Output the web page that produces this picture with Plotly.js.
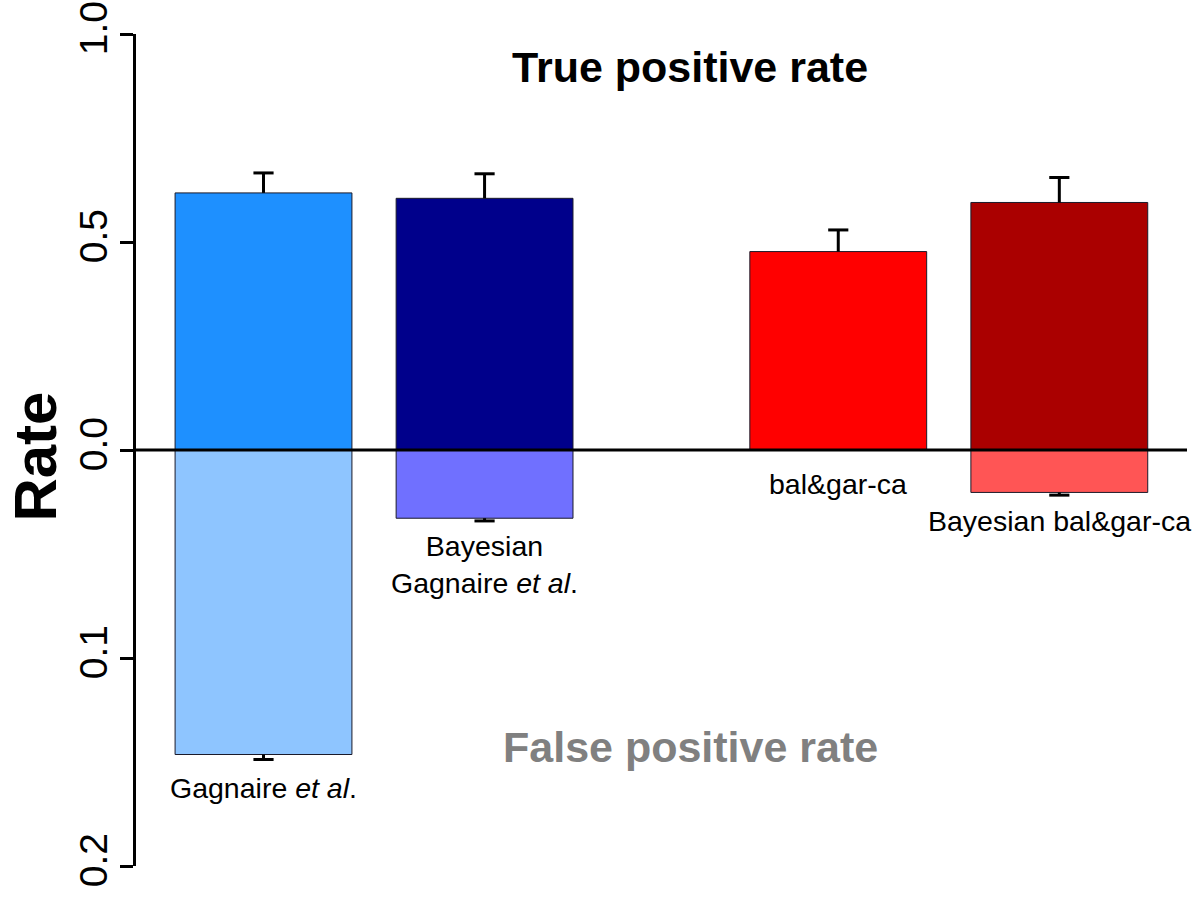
<!DOCTYPE html>
<html><head><meta charset="utf-8">
<script src="https://cdn.plot.ly/plotly-3.0.1.min.js"></script>
<style>html,body{margin:0;padding:0;background:#fff}</style>
</head><body><div id="chart" style="width:1200px;height:901px"></div>
<script>
// ---- data ----
const methods = ['Gagnaire et al.', 'Bayesian Gagnaire et al.', 'bal&gar-ca', 'Bayesian bal&gar-ca'];
const methodLabels = ['Gagnaire <i>et al</i>.', 'Bayesian<br>Gagnaire <i>et al</i>.', 'bal&gar-ca', 'Bayesian bal&gar-ca'];
const tpr = [0.618, 0.605, 0.477, 0.595];
const tprErr = [0.048, 0.059, 0.052, 0.060];
const fpr = [0.1464, 0.0328, 0.0, 0.0204];
const fprErr = [0.0024, 0.0013, 0.0, 0.0013];
const tprColors = ['#1E90FF', '#00008B', '#FF0000', '#AA0000'];
const fprColors = ['#8EC5FF', '#7070FF', '#FF6060', '#FF5555'];
const tprTicks = [0.5, 1.0];
const fprTicks = [0.1, 0.2];

// ---- layout constants ----
const xpos = [0, 1.25, 3.25, 4.5];
const fprScale = 5;               // 0.2 FPR drawn at same height as 1.0 TPR
const labelY = [-0.8125, -0.275, -0.082, -0.171];
const capHalf = 0.057;
const font = 'Liberation Sans, Arial, sans-serif';

const fprPlot = fpr.map(v => -v * fprScale);

const traces = [
  {type: 'bar', x: xpos, y: tpr, width: 1, marker: {color: tprColors, line: {color: '#1a1a2a', width: 1}},
   hoverinfo: 'skip', showlegend: false},
  {type: 'bar', x: xpos, y: fprPlot, width: 1, marker: {color: fprColors, line: {color: '#1a1a2a', width: fpr.map(v => v > 0 ? 1 : 0)}},
   hoverinfo: 'skip', showlegend: false}
];

const shapes = [];
function errBar(x, y0, y1) {
  shapes.push({type: 'line', xref: 'x', yref: 'y', x0: x, x1: x, y0: y0, y1: y1, line: {color: '#000', width: 3}, layer: 'above'});
  shapes.push({type: 'line', xref: 'x', yref: 'y', x0: x - capHalf, x1: x + capHalf, y0: y1, y1: y1, line: {color: '#000', width: 3}, layer: 'above'});
}
xpos.forEach((x, i) => {
  errBar(x, tpr[i], tpr[i] + tprErr[i]);
  if (fpr[i] > 0) errBar(x, -fpr[i] * fprScale, -(fpr[i] + fprErr[i]) * fprScale);
});
shapes.push({type: 'line', xref: 'paper', yref: 'y', x0: 0, x1: 1, y0: 0, y1: 0, line: {color: '#000', width: 3}, layer: 'above'});

const annotations = xpos.map((x, i) => ({
  x: x, y: labelY[i], xref: 'x', yref: 'y', text: methodLabels[i], showarrow: false,
  font: {family: font, size: 28.5, color: '#000'}, xanchor: 'center', yanchor: 'middle'
}));
annotations.push({x: 0.527, y: 0.921, xref: 'paper', yref: 'y', text: '<b>True positive rate</b>', showarrow: false,
  font: {family: font, size: 43, color: '#000'}, xanchor: 'center', yanchor: 'middle'});
annotations.push({x: 0.528, y: -0.714, xref: 'paper', yref: 'y', text: '<b>False positive rate</b>', showarrow: false,
  font: {family: font, size: 43, color: '#808080'}, xanchor: 'center', yanchor: 'middle'});
annotations.push({x: -0.0955, y: 0.4916, xref: 'paper', yref: 'paper', text: '<b>Rate</b>', showarrow: false, textangle: -90,
  height: 60, borderpad: 0,
  font: {family: font, size: 60, color: '#000'}, xanchor: 'center', yanchor: 'middle'});

const tickVals = fprTicks.slice().reverse().map(v => -v * fprScale).concat([0], tprTicks);
const tickText = fprTicks.slice().reverse().map(v => v.toFixed(1)).concat(['0.0'], tprTicks.map(v => v.toFixed(1)));

const layout = {
  width: 1200, height: 901,
  margin: {l: 136, r: 13, t: 34, b: 35},
  paper_bgcolor: '#fff', plot_bgcolor: '#fff',
  barmode: 'overlay',
  xaxis: {range: [-0.721, 5.222], showgrid: false, zeroline: false, showline: false, showticklabels: false, ticks: '', fixedrange: true},
  yaxis: {range: [-1, 1], showgrid: false, zeroline: false, showline: true, linewidth: 3, linecolor: '#000',
    ticks: 'outside', ticklen: 13, tickwidth: 3, tickcolor: '#000', tickvals: tickVals, ticktext: tickText,
    tickangle: -90, ticklabelstandoff: -3, tickfont: {family: font, size: 39, color: '#000'}, fixedrange: true},
  shapes: shapes,
  annotations: annotations,
  font: {family: font}
};

Plotly.newPlot('chart', traces, layout, {displayModeBar: false, staticPlot: true});
</script>
</body></html>
